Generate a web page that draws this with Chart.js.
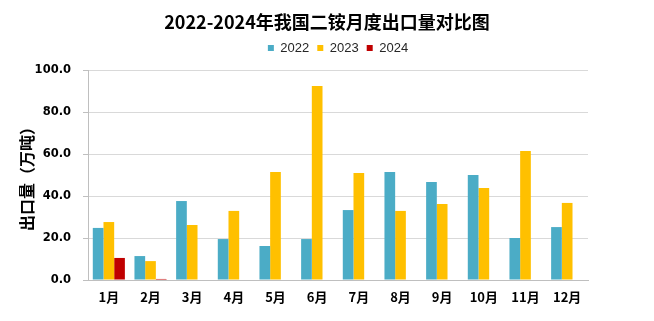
<!DOCTYPE html>
<html>
<head>
<meta charset="utf-8">
<script src="https://cdn.jsdelivr.net/npm/chart.js@4/dist/chart.umd.min.js"></script>
<style>
html,body{margin:0;padding:0;background:#fff;}
#wrap{width:654px;height:321px;position:relative;}
</style>
</head>
<body>
<div id="wrap"><canvas id="c" width="654" height="321"></canvas></div>
<script>
const categories = ['1月','2月','3月','4月','5月','6月','7月','8月','9月','10月','11月','12月'];
const seriesNames = ['2022','2023','2024'];
const values2022 = [24.8, 11.4, 37.6, 19.5, 16.2, 19.5, 33.3, 51.4, 46.7, 50.0, 20.0, 25.2];
const values2023 = [27.6, 9.0, 26.2, 32.9, 51.4, 92.4, 51.0, 32.9, 36.2, 43.8, 61.4, 36.7];
const values2024 = [10.5, 0.5, null, null, null, null, null, null, null, null, null, null];
const yTicks = [0, 20, 40, 60, 80, 100];
const colors = ['#4BACC6', '#FFC000', '#C00000'];

const cjk = '"Noto Sans CJK SC", "Noto Sans", sans-serif';

function makeSpacer(weight, h) {
  return {
    position: 'top',
    weight: weight,
    fullSize: true,
    options: {},
    left: 0, top: 0, right: 0, bottom: 0, width: 0, height: 0,
    isHorizontal() { return true; },
    update(maxWidth) { this.width = maxWidth; this.height = h; },
    getPadding() { return { left: 0, right: 0, top: 0, bottom: 0 }; },
    draw() {}
  };
}

const spacerPlugin = {
  id: 'spacer',
  beforeInit(chart) {
    Chart.layouts.addBox(chart, makeSpacer(1500, 7));
    Chart.layouts.addBox(chart, makeSpacer(500, 5.5));
  }
};

new Chart(document.getElementById('c'), {
  type: 'bar',
  data: {
    labels: categories,
    datasets: [values2022, values2023, values2024].map((v, i) => ({
      label: seriesNames[i],
      data: v,
      backgroundColor: colors[i],
      borderWidth: 0,
      categoryPercentage: 0.77,
      barPercentage: 1.0
    }))
  },
  plugins: [spacerPlugin],
  options: {
    responsive: false,
    animation: false,
    layout: { padding: { left: 0, right: 0, top: 0, bottom: 0 } },
    plugins: {
      title: {
        display: true,
        text: '2022-2024年我国二铵月度出口量对比图',
        color: '#000',
        font: { family: cjk, size: 18, weight: 'bold', lineHeight: 0.5 },
        padding: { top: 17.5, bottom: 0 }
      },
      legend: {
        display: true,
        position: 'top',
        fullSize: false,
        labels: {
          boxWidth: 6,
          boxHeight: 6,
          color: '#262626',
          font: { family: '"Liberation Sans", Arial, sans-serif', size: 13 },
          padding: 8
        }
      },
      tooltip: { enabled: false }
    },
    scales: {
      x: {
        grid: { display: false, drawTicks: false },
        border: { display: true, color: '#BFBFBF', width: 1 },
        ticks: {
          color: '#000',
          font: { family: cjk, size: 13, weight: 'bold' },
          padding: 9,
          maxRotation: 0
        },
        afterFit: s => { s.height = 41; }
      },
      y: {
        min: 0,
        max: 100,
        afterBuildTicks: s => { s.ticks = yTicks.map(v => ({ value: v })); },
        grid: { color: '#D9D9D9', lineWidth: 1, tickLength: 5, tickColor: '#BFBFBF' },
        border: { display: true, color: '#BFBFBF', width: 1 },
        ticks: {
          color: '#000',
          font: { family: '"DejaVu Sans", sans-serif', size: 11.5, weight: 'bold' },
          padding: 12,
          callback: v => Number(v).toFixed(1)
        },
        title: {
          display: true,
          text: '出口量（万吨）',
          color: '#000',
          font: { family: cjk, size: 16, weight: 'bold' },
          padding: { top: 17, bottom: 0 }
        },
        afterFit: s => { s.width = 88; }
      },
      yRight: {
        position: 'right',
        display: true,
        min: 0,
        max: 1,
        grid: { display: false, drawTicks: false },
        border: { display: false },
        ticks: { display: false },
        afterFit: s => { s.width = 66; }
      }
    }
  }
});
</script>
</body>
</html>
